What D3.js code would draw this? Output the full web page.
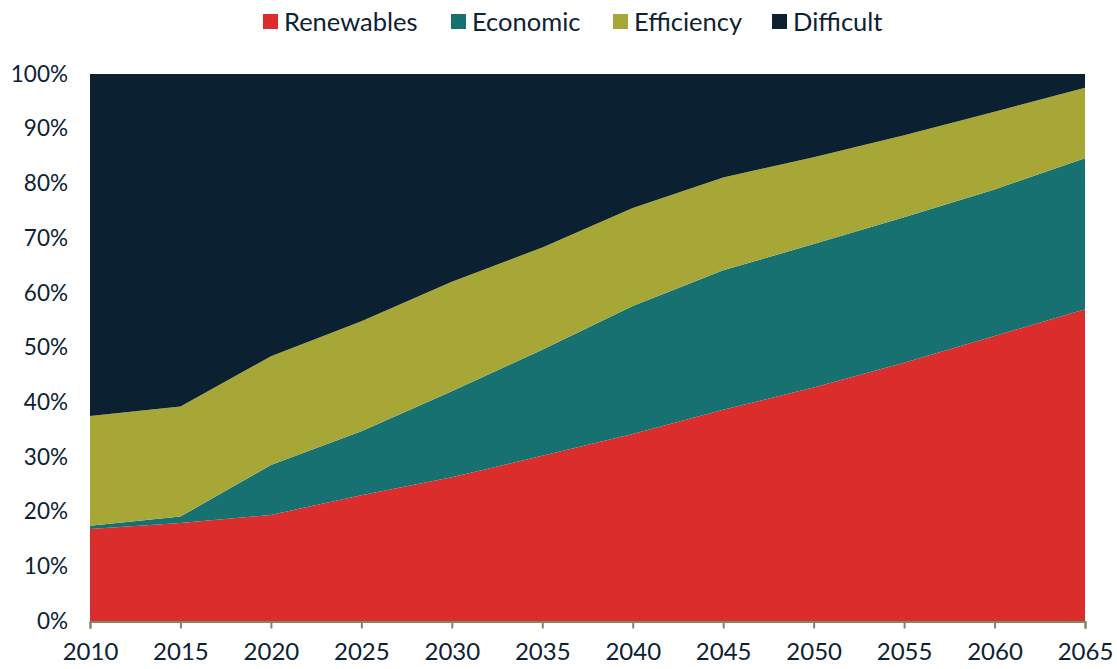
<!DOCTYPE html>
<html>
<head>
<meta charset="utf-8">
<script src="https://cdn.jsdelivr.net/npm/d3@7"></script>
<style>
  html, body { margin: 0; padding: 0; background: #fff; }
  svg { display: block; }
  text { font-family: Lato, "Noto Sans", sans-serif; fill: #0d2233; }
</style>
</head>
<body>
<svg id="chart" width="1117" height="669"></svg>
<script>
// Share of total (%) by year, stacked bottom to top
const years = [2010, 2015, 2020, 2025, 2030, 2035, 2040, 2045, 2050, 2055, 2060, 2065];
const renewables = [16.8, 17.9, 19.4, 23.0, 26.3, 30.2, 34.2, 38.6, 42.7, 47.2, 52.1, 57.0];
const economic   = [0.6, 1.2, 9.1, 11.7, 15.7, 19.4, 23.4, 25.5, 26.2, 26.6, 26.8, 27.6];
const efficiency = [20.1, 20.1, 19.9, 20.1, 20.0, 18.7, 17.9, 17.0, 15.9, 15.0, 14.2, 12.9];
const difficult  = [62.5, 60.8, 51.6, 45.2, 38.0, 31.7, 24.5, 18.9, 15.2, 11.2, 6.9, 2.5];

const seriesNames = ["Renewables", "Economic", "Efficiency", "Difficult"];
const seriesColors = ["#dc2d2d", "#177170", "#a7a738", "#0b2031"];
const yTicks = [0, 10, 20, 30, 40, 50, 60, 70, 80, 90, 100];

const rows = years.map((y, i) => ({
  year: y,
  Renewables: renewables[i],
  Economic: economic[i],
  Efficiency: efficiency[i],
  Difficult: difficult[i]
}));

const margin = { left: 90, right: 32, top: 74, bottom: 48 };
const W = 1117, H = 669;
const svg = d3.select("#chart");

const x = d3.scaleLinear()
  .domain([2010, 2065])
  .range([margin.left, W - margin.right]);
const y = d3.scaleLinear()
  .domain([0, 100])
  .range([H - margin.bottom, margin.top]);

const stack = d3.stack().keys(seriesNames);
const layers = stack(rows);

const area = d3.area()
  .x(d => x(d.data.year))
  .y0(d => y(d[0]))
  .y1(d => y(d[1]));

svg.append("g")
  .selectAll("path")
  .data(layers)
  .join("path")
  .attr("d", area)
  .attr("fill", (d, i) => seriesColors[i]);

// x axis
const xAxis = svg.append("g")
  .attr("transform", `translate(0,${y(0) + 0.5})`)
  .call(d3.axisBottom(x).tickValues(years).tickFormat(d3.format("d")).tickSize(7).tickPadding(14));
xAxis.select(".domain").attr("stroke", "#7b8a66").attr("stroke-width", 2);
xAxis.selectAll(".tick line").attr("stroke", "#7b8a66").attr("stroke-width", 2);
xAxis.selectAll("text")
  .attr("font-size", 24)
  .style("font-family", "Lato, 'Noto Sans', sans-serif")
  .attr("fill", "#0d2233");

// y axis (labels only)
const yAxis = svg.append("g")
  .attr("transform", `translate(${margin.left},0)`)
  .call(d3.axisLeft(y).tickValues(yTicks).tickFormat(d => d + "%").tickSize(0).tickPadding(22));
yAxis.select(".domain").remove();
yAxis.selectAll("text")
  .attr("font-size", 22.5)
  .style("font-family", "Lato, 'Noto Sans', sans-serif")
  .attr("fill", "#0d2233");

// legend
const legendX = [263, 451, 613, 772];
const legend = svg.append("g");
seriesNames.forEach((name, i) => {
  const g = legend.append("g").attr("transform", `translate(${legendX[i]},0)`);
  g.append("rect").attr("x", 0).attr("y", 14).attr("width", 15).attr("height", 15).attr("fill", seriesColors[i]);
  g.append("text").attr("x", 21).attr("y", 22).attr("dy", "0.35em")
    .attr("font-size", 25.5).text(name);
});
</script>
</body>
</html>
